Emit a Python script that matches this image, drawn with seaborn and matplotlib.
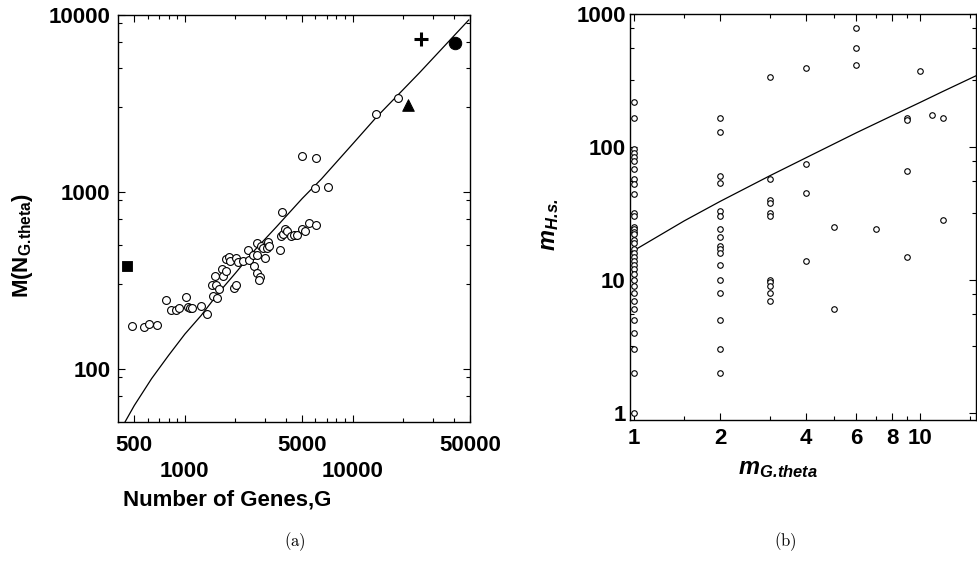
import matplotlib
matplotlib.use("Agg")
import numpy as np
import pandas as pd
import matplotlib.pyplot as plt
import matplotlib.transforms as mtransforms
from matplotlib.ticker import FixedLocator, NullFormatter
import seaborn as sns

# ---- panel (a): number of genes G vs M(N_G.theta)
genes = [482, 570, 611, 684, 774, 826, 881, 918, 1023, 1038, 1071, 1105, 1240, 1357,
         1474, 1454, 1515, 1530, 1557, 1593, 1666, 1699, 1761, 1747, 1835, 1853, 1950,
         2020, 2013, 2066, 2222, 2382, 2415, 2576, 2552, 2693, 2683, 2673, 2785, 2757,
         2824, 2902, 2994, 3077, 3120, 3177, 3690, 3725, 3830, 3795, 3953, 4063, 4292,
         4457, 4660, 5018, 5200, 5495, 6050, 6000, 7166, 5018, 6085, 13770, 18710]
m_theta = [175, 172, 178, 177, 246, 215, 215, 220, 255, 223, 222, 221, 225, 205,
           259, 296, 334, 296, 252, 282, 367, 334, 356, 417, 430, 408, 287,
           296, 424, 404, 408, 472, 413, 380, 437, 515, 441, 350, 332, 318,
           497, 481, 422, 479, 524, 497, 472, 562, 577, 767, 618, 600, 564,
           574, 572, 613, 604, 671, 649, 1050, 1063, 1591, 1556, 2748, 3381]

# the four highlighted genomes
square_pt = (450, 382)
triangle_pt = (21440, 3105)
plus_pt = (25640, 7345)
dot_pt = (40830, 6918)

# curve drawn through the cloud
fit_g = [440, 500, 634, 800, 1000, 1250, 1600, 2000, 2540, 3500, 5000, 6516,
         10000, 13830, 25000, 49200]
fit_m = [50, 62, 88, 119, 157, 200, 271, 347, 456, 632, 917, 1184,
         1867, 2642, 4717, 9390]

# ---- panel (b): m_G.theta vs m_H.s.
m_hs = {
    1: [218, 164, 97, 90, 84, 78, 68, 57, 53, 44, 32, 30, 25, 24, 23, 22, 20, 19,
        17, 16, 15, 14, 13, 12, 11, 10, 9, 8, 7, 6, 5, 4, 3, 2, 1],
    2: [166, 130, 60, 54, 33, 30, 24, 21, 18, 17, 16, 13, 10, 8, 5, 3, 2],
    3: [336, 57, 40, 38, 32, 30, 10, 9.6, 9, 8, 7],
    4: [391, 75, 45, 14],
    5: [25, 6],
    6: [780, 558, 416],
    7: [24],
    9: [166, 160, 66, 15],
    10: [373],
    11: [174],
    12: [164, 28],
}
fit_b_x = [0.97, 1.5, 2, 3, 4, 6, 8, 10, 12, 15.7]
fit_b_y = [16, 27.8, 38.9, 61, 83, 128, 172, 216, 261, 343]

df_a = pd.DataFrame({"G": genes, "M": m_theta})
df_fit_a = pd.DataFrame({"G": fit_g, "M": fit_m})
df_b = pd.DataFrame([(k, v) for k, vals in m_hs.items() for v in vals],
                    columns=["mG", "mH"])
df_fit_b = pd.DataFrame({"mG": fit_b_x, "mH": fit_b_y})

sns.set_style("ticks")
plt.rcParams["font.family"] = ["Liberation Sans", "DejaVu Sans"]
plt.rcParams["font.weight"] = "bold"
plt.rcParams["axes.labelweight"] = "bold"
plt.rcParams["axes.labelcolor"] = "black"
plt.rcParams["text.color"] = "black"
plt.rcParams["xtick.color"] = "black"
plt.rcParams["ytick.color"] = "black"
plt.rcParams["mathtext.fontset"] = "custom"
plt.rcParams["mathtext.rm"] = "Liberation Sans:bold"
plt.rcParams["mathtext.bf"] = "Liberation Sans:bold"
plt.rcParams["mathtext.it"] = "Liberation Sans:italic:bold"
plt.rcParams["mathtext.bfit"] = "Liberation Sans:italic:bold"

fig = plt.figure(figsize=(9.78, 5.82), dpi=100)
ax1 = fig.add_axes([0.1207, 0.2749, 0.3599, 0.6993])
ax2 = fig.add_axes([0.6442, 0.2784, 0.3538, 0.6976])

# ---- (a)
sns.lineplot(data=df_fit_a, x="G", y="M", ax=ax1, color="black", lw=0.9,
             sort=False, estimator=None)
sns.scatterplot(data=df_a, x="G", y="M", ax=ax1, marker="o", s=32,
                facecolor="white", edgecolor="black", linewidth=0.8, zorder=3)
for pt, mk, sz in [(square_pt, "s", 60), (triangle_pt, "^", 70), (dot_pt, "o", 80)]:
    sns.scatterplot(x=[pt[0]], y=[pt[1]], ax=ax1, marker=mk, s=sz,
                    color="black", edgecolor="black", zorder=4)
ax1.plot([plus_pt[0]], [plus_pt[1]], marker="+", ms=10, mew=2.2, color="black",
         ls="none", zorder=4)

ax1.set_xscale("log")
ax1.set_yscale("log")
ax1.set_xlim(400, 50000)
ax1.set_ylim(50, 10000)
ax1.xaxis.set_major_locator(FixedLocator([500, 1000, 5000, 10000, 50000]))
ax1.set_xticklabels(["500", "1000", "5000", "10000", "50000"])
ax1.xaxis.set_minor_locator(FixedLocator(
    [k * 10 ** d for d in (2, 3, 4) for k in range(2, 10)
     if 400 < k * 10 ** d < 50000 and k != 5]))
ax1.xaxis.set_minor_formatter(NullFormatter())
ax1.yaxis.set_major_locator(FixedLocator([100, 1000, 10000]))
ax1.set_yticklabels(["100", "1000", "10000"])
ax1.yaxis.set_minor_locator(FixedLocator(
    [k * 10 ** d for d in (1, 2, 3) for k in (3, 5, 7, 9) if 50 < k * 10 ** d < 10000]))
ax1.yaxis.set_minor_formatter(NullFormatter())
ax1.set_xlabel("Number of Genes,G", fontsize=16)
ax1.set_ylabel(r"M(N$_{\mathbf{G.\!theta}}$)", fontsize=16)
ax1.xaxis.set_label_coords(0.31, -0.165)
ax1.yaxis.set_label_coords(-0.235, 0.435)

# ---- (b)
sns.lineplot(data=df_fit_b, x="mG", y="mH", ax=ax2, color="black", lw=0.9,
             sort=False, estimator=None)
sns.scatterplot(data=df_b, x="mG", y="mH", ax=ax2, marker="o", s=16,
                facecolor="white", edgecolor="black", linewidth=0.8, zorder=3)
ax2.set_xscale("log")
ax2.set_yscale("log")
ax2.set_xlim(0.97, 15.7)
ax2.set_ylim(0.885, 1000)
ax2.xaxis.set_major_locator(FixedLocator([1, 2, 4, 6, 8, 10]))
ax2.set_xticklabels(["1", "2", "4", "6", "8", "10"])
ax2.xaxis.set_minor_locator(FixedLocator([1.5, 3, 5, 7, 9, 15]))
ax2.xaxis.set_minor_formatter(NullFormatter())
ax2.yaxis.set_major_locator(FixedLocator([1, 10, 100, 1000]))
ax2.set_yticklabels(["1", "10", "100", "1000"])
ax2.yaxis.set_minor_locator(FixedLocator(
    [k * 10 ** d for d in (0, 1, 2) for k in (3.2, 5.5, 7.8)]))
ax2.yaxis.set_minor_formatter(NullFormatter())
ax2.set_xlabel(r"$\mathbfit{m}_{\mathbfit{G.\!theta}}$", fontsize=17)
ax2.set_ylabel(r"$\mathbfit{m}_{\mathbfit{H.\!s.}}$", fontsize=17)
ax2.xaxis.set_label_coords(0.427, -0.09)
ax2.yaxis.set_label_coords(-0.2, 0.48)

for ax in (ax1, ax2):
    ax.tick_params(which="both", direction="in", top=True, right=True,
                   width=0.8, colors="black", labelsize=16)
    ax.tick_params(which="major", length=5)
    ax.tick_params(which="minor", length=3)
    for sp in ax.spines.values():
        sp.set_visible(True)
        sp.set_linewidth(1.0)
        sp.set_color("black")
ax1.tick_params(axis="x", pad=9)
ax1.tick_params(axis="y", pad=5.5)
ax2.tick_params(axis="x", pad=6)
ax2.tick_params(axis="y", pad=3)

for ax in (ax1, ax2):
    for lab in ax.get_xticklabels() + ax.get_yticklabels():
        lab.set_fontweight("bold")
        lab.set_color("black")

# 1000 and 10000 sit on a second row, as in the original figure
shift = mtransforms.ScaledTranslation(0, -0.26, fig.dpi_scale_trans)
for i, tick in enumerate(ax1.xaxis.get_major_ticks()):
    if i in (1, 3):
        tick.label1.set_transform(tick.label1.get_transform() + shift)

fig.text(0.3016, 0.07, r"$\mathrm{(a)}$", ha="center", va="center",
         fontsize=12, math_fontfamily="cm")
fig.text(0.8027, 0.07, r"$\mathrm{(b)}$", ha="center", va="center",
         fontsize=12, math_fontfamily="cm")

fig.savefig("out.png", dpi=100)
